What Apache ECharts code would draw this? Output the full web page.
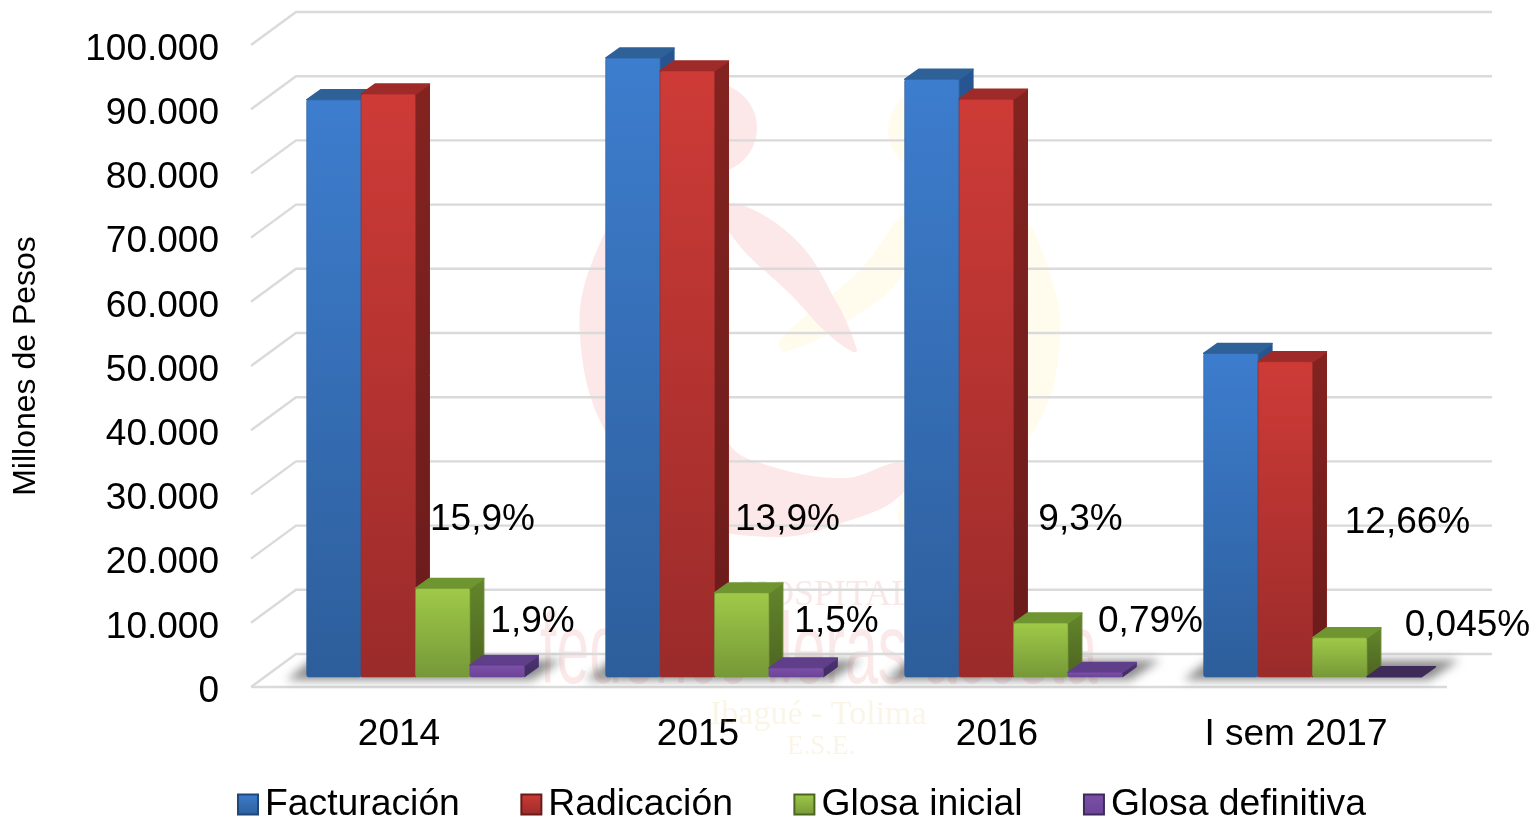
<!DOCTYPE html>
<html>
<head>
<meta charset="utf-8">
<style>
  html, body { margin: 0; padding: 0; background: #fff; }
  #chart { width: 1537px; height: 819px; }
</style>
<script src="https://cdn.jsdelivr.net/npm/echarts@6/dist/echarts.min.js"></script>
</head>
<body>
<div id="chart"></div>
<script>
const categories = ['2014', '2015', '2016', 'I sem 2017']
const facturacion = [89900, 96400, 93100, 50400]
const radicacion = [90800, 94400, 90000, 49100]
const glosaInicial = [13800, 13100, 8400, 6100]
const glosaDefinitiva = [1800, 1400, 700, 30]
const pctInicial = ['15,9%', '13,9%', '9,3%', '12,66%']
const pctDefinitiva = ['1,9%', '1,5%', '0,79%', '0,045%']
const gridValues = [0, 10000, 20000, 30000, 40000, 50000, 60000, 70000, 80000, 90000, 100000]

// fake 3D: full depth of the chart box, bars sit in the middle third of it
const WALL_DX = 45
const WALL_DY = -33
const BAR_DX = 15
const BAR_DY = -10
const DEPTH_DX = 14
const DEPTH_DY = -10
const BAR_SHARE = 0.182

const FONT = '"Liberation Sans", Arial, sans-serif'
const SERIF = '"Liberation Serif", serif'
const TEXT_SIZE = 37

const palette = {
  blue: { front: ['#3d7dce', '#2d5e9b'], side: ['#265692', '#1f4778'], top: '#2f6199' },
  red: { front: ['#ce3b37', '#9a2b2a'], side: ['#832320', '#691b1b'], top: '#9e2b29' },
  green: { front: ['#9fca48', '#769838'], side: ['#64862c', '#4c6520'], top: '#6f9530' },
  purple: { front: ['#7c50a8', '#6c4498'], side: ['#4f3476', '#3f2b59'], top: '#5f3f8a' }
}

function vgrad(c) {
  return new echarts.graphic.LinearGradient(0, 0, 0, 1, [
    { offset: 0, color: c[0] },
    { offset: 1, color: c[1] }
  ])
}

function renderBar(slot, colors) {
  return function (params, api) {
    const top = api.coord([api.value(0), api.value(1)])
    const base = api.coord([api.value(0), 0])
    const w = api.size([1, 0])[0] * BAR_SHARE
    const x = top[0] + BAR_DX + (slot - 2) * w
    const yt = top[1] + BAR_DY
    const yb = base[1] + BAR_DY
    const h = yb - yt
    const flat = h <= 1
    const faces = []
    if (!flat) {
      faces.push({
        type: 'polygon',
        shape: { points: [[x + w, yt], [x + w + DEPTH_DX, yt + DEPTH_DY], [x + w + DEPTH_DX, yb + DEPTH_DY], [x + w, yb]] },
        style: { fill: vgrad(colors.side), stroke: colors.side[0], lineWidth: 1, lineJoin: 'round' }
      })
    }
    const topColor = flat ? colors.side[1] : colors.top
    faces.push({
      type: 'polygon',
      shape: { points: [[x, yt], [x + DEPTH_DX, yt + DEPTH_DY], [x + w + DEPTH_DX, yt + DEPTH_DY], [x + w, yt]] },
      style: { fill: topColor, stroke: topColor, lineWidth: 1.5, lineJoin: 'round' }
    })
    if (!flat) {
      faces.push({
        type: 'rect',
        shape: { x: x, y: yt, width: w, height: h, r: 2 },
        style: { fill: vgrad(colors.front), stroke: colors.front[1], lineWidth: 0.6 }
      })
    }
    return { type: 'group', children: faces }
  }
}

function barSeries(name, values, slot, colors) {
  return {
    name: name,
    type: 'custom',
    coordinateSystem: 'cartesian2d',
    renderItem: renderBar(slot, colors),
    encode: { x: 0, y: 1 },
    itemStyle: { color: vgrad(colors.front), borderColor: colors.side[1], borderWidth: 1 },
    z: 5,
    data: values.map((v, i) => [i, v])
  }
}

// back wall and floor lines
function renderWall(params, api) {
  const p = api.coord([0, api.value(0)])
  const right = params.coordSys.x + params.coordSys.width
  const left = params.coordSys.x
  const line = pts => ({
    type: 'polyline',
    shape: { points: pts },
    style: { fill: null, stroke: '#dadada', lineWidth: 2.4 }
  })
  const wall = line([[left, p[1]], [left + WALL_DX, p[1] + WALL_DY], [right + WALL_DX, p[1] + WALL_DY]])
  if (api.value(0) === 0) {
    return { type: 'group', children: [wall, line([[left, p[1]], [right, p[1]]])] }
  }
  return wall
}

// only the blurred shadow is wanted, so the shape itself is pushed off the canvas
function renderShadow(params, api) {
  const p = api.coord([api.value(0), 0])
  const w = api.size([1, 0])[0] * BAR_SHARE
  const x0 = p[0] + BAR_DX - 2 * w
  const x1 = p[0] + BAR_DX + 2 * w
  const y = p[1] + BAR_DY
  const away = 3000
  return {
    type: 'polygon',
    shape: { points: [[x0 - 20 - away, y + 3], [x0 + 5 - away, y - 17], [x1 + 38 - away, y - 17], [x1 + 8 - away, y + 3]] },
    style: { fill: '#000', shadowBlur: 10, shadowOffsetX: away, shadowColor: 'rgba(80,80,80,0.65)' }
  }
}

// percent labels: x shift from the category centre, y as an axis value
const labelLayout = {
  inicial: { dx: [82, 88, 82, 110], level: [26000, 26000, 26000, 25650] },
  definitiva: { dx: [132, 137, 152, 170], level: [10150, 10150, 10150, 9550] }
}

function renderPct(list, layout) {
  return function (params, api) {
    const i = api.value(0)
    const p = api.coord([i, layout.level[i]])
    return {
      type: 'text',
      x: p[0] + layout.dx[i],
      y: p[1],
      style: {
        text: list[i],
        fill: '#000',
        font: TEXT_SIZE + 'px ' + FONT,
        align: 'center',
        verticalAlign: 'middle'
      }
    }
  }
}

function pctSeries(name, list, layout) {
  return {
    name: name,
    type: 'custom',
    renderItem: renderPct(list, layout),
    encode: { x: 0, y: 1 },
    z: 8,
    silent: true,
    data: list.map((t, i) => [i, layout.level[i]])
  }
}

// faint hospital logo behind the plot
const RED_MARK = '#fce8e8'
const YELLOW_MARK = '#fffcee'

function logoShape(points, fill) {
  return { type: 'polygon', z: 0, shape: { points: points, smooth: 0.4 }, style: { fill: fill } }
}

const logo = [
  logoShape([[905, 215], [860, 270], [780, 340], [785, 352], [850, 320], [905, 270]], YELLOW_MARK),
  logoShape([[1027, 225], [1052, 280], [1060, 340], [1040, 420], [985, 480], [905, 530], [905, 490], [970, 450], [1015, 390], [1027, 330]], YELLOW_MARK),
  { type: 'circle', z: 0, shape: { cx: 930, cy: 130, r: 42 }, style: { fill: YELLOW_MARK } },
  logoShape([[640, 190], [597, 250], [580, 335], [610, 440], [680, 515], [770, 537], [845, 522], [903, 493], [903, 463], [843, 478], [760, 463], [728, 443], [680, 350], [650, 260]], RED_MARK),
  logoShape([[730, 203], [793, 237], [837, 303], [857, 350], [853, 352], [827, 333], [793, 297], [730, 233]], RED_MARK),
  { type: 'circle', z: 0, shape: { cx: 712, cy: 128, r: 45 }, style: { fill: RED_MARK } }
]

const chart = echarts.init(document.getElementById('chart'), null, { renderer: 'canvas' })

chart.setOption({
  backgroundColor: '#fff',
  animation: false,
  grid: { left: 251, right: 90, top: 45, bottom: 132 },
  legend: {
    data: ['Facturación', 'Radicación', 'Glosa inicial', 'Glosa definitiva'],
    left: 232,
    top: 781,
    icon: 'rect',
    itemWidth: 20,
    itemHeight: 20,
    itemGap: 60.5,
    textStyle: { color: '#000', fontSize: 37.3, fontFamily: FONT, padding: [0, 0, 0, 2] }
  },
  xAxis: {
    type: 'category',
    data: categories,
    axisLine: { show: false },
    axisTick: { show: false },
    axisLabel: { color: '#000', fontSize: TEXT_SIZE, fontFamily: FONT, margin: 29, padding: [0, 3, 0, 0] }
  },
  yAxis: {
    type: 'value',
    min: 0,
    max: 100000,
    interval: 10000,
    name: 'Millones de Pesos',
    nameLocation: 'middle',
    nameRotate: 90,
    nameGap: 209,
    nameTextStyle: { color: '#000', fontSize: 32, fontFamily: FONT },
    splitLine: { show: false },
    axisLine: { show: false },
    axisTick: { show: false },
    axisLabel: {
      color: '#000',
      fontSize: TEXT_SIZE,
      fontFamily: FONT,
      margin: 32,
      verticalAlign: 'top',
      padding: [-14, 0, 0, 0],
      formatter: v => String(v).replace(/\B(?=(\d{3})+$)/g, '.')
    }
  },
  graphic: logo.concat([
    { type: 'text', z: 1, x: 742, y: 578, style: { text: 'HOSPITAL', fill: 'rgba(200,80,80,0.13)', font: '36px ' + SERIF } },
    { type: 'text', z: 1, x: 540, y: 605, scaleY: 1.7, style: { text: 'federico lleras acosta', fill: 'rgba(220,70,70,0.12)', font: '59px ' + FONT } },
    { type: 'text', z: 1, x: 710, y: 698, style: { text: 'Ibagué - Tolima', fill: 'rgba(225,200,120,0.18)', font: '34px ' + SERIF } },
    { type: 'text', z: 1, x: 787, y: 733, style: { text: 'E.S.E.', fill: 'rgba(225,200,120,0.18)', font: '27px ' + SERIF } }
  ]),
  series: [
    {
      name: 'muro',
      type: 'custom',
      renderItem: renderWall,
      encode: { y: 0 },
      z: 2,
      silent: true,
      data: gridValues.map(v => [v])
    },
    {
      name: 'sombra',
      type: 'custom',
      renderItem: renderShadow,
      encode: { x: 0 },
      z: 3,
      silent: true,
      data: categories.map((c, i) => [i])
    },
    barSeries('Facturación', facturacion, 0, palette.blue),
    barSeries('Radicación', radicacion, 1, palette.red),
    barSeries('Glosa inicial', glosaInicial, 2, palette.green),
    barSeries('Glosa definitiva', glosaDefinitiva, 3, palette.purple),
    pctSeries('pct inicial', pctInicial, labelLayout.inicial),
    pctSeries('pct definitiva', pctDefinitiva, labelLayout.definitiva)
  ]
})
</script>
</body>
</html>
